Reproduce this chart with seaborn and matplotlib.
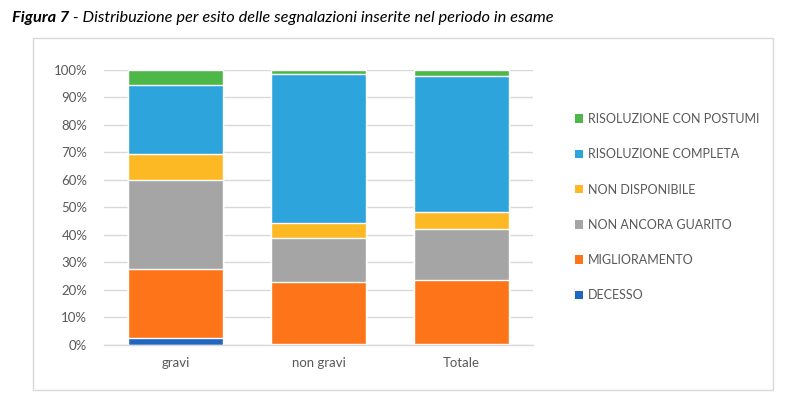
import matplotlib
matplotlib.use("Agg")
import matplotlib.pyplot as plt
from matplotlib.patches import Patch, Rectangle
import numpy as np
import pandas as pd
import seaborn as sns

categories = ["gravi", "non gravi", "Totale"]
decesso = [2.5, 0.1, 0.3]
miglioramento = [25.1, 22.6, 23.1]
non_ancora_guarito = [32.3, 16.2, 18.8]
non_disponibile = [9.4, 5.3, 6.0]
risoluzione_completa = [25.0, 54.1, 49.5]
risoluzione_postumi = [5.7, 1.7, 2.3]

series_labels = ["DECESSO", "MIGLIORAMENTO", "NON ANCORA GUARITO",
                 "NON DISPONIBILE", "RISOLUZIONE COMPLETA", "RISOLUZIONE CON POSTUMI"]
series_values = [decesso, miglioramento, non_ancora_guarito,
                 non_disponibile, risoluzione_completa, risoluzione_postumi]
colors = ["#1F66C1", "#FD7419", "#A5A5A5", "#FDB924", "#2EA4DC", "#4DB848"]

sns.set_style("white")
FONT = "Lato"
plt.rcParams["font.family"] = [FONT, "DejaVu Sans"]
TXT = "#595959"

fig = plt.figure(figsize=(8, 3.99), dpi=100)
ax = fig.add_axes([104 / 800, 1 - 344.7 / 399, (533 - 104) / 800, (344.7 - 69.7) / 399])

cum = np.cumsum(np.array(series_values), axis=0)
for i in range(len(series_labels) - 1, -1, -1):
    df = pd.DataFrame({"cat": categories, "val": cum[i]})
    sns.barplot(data=df, x="cat", y="val", color=colors[i], saturation=1,
                width=0.665, ax=ax, zorder=3)

ax.set_xlim(-0.5, 2.5)
ax.set_ylim(0, 100)
ax.set_yticks(np.arange(0, 101, 10))
ax.set_yticklabels([f"{v}%" for v in range(0, 101, 10)])
ax.grid(axis="y", color="#D9D9D9", linewidth=1, zorder=0)
ax.set_axisbelow(True)
for s in ["top", "right", "left"]:
    ax.spines[s].set_visible(False)
ax.spines["bottom"].set_color("#D9D9D9")
ax.spines["bottom"].set_linewidth(1)
ax.spines["bottom"].set_zorder(4)
ax.tick_params(axis="both", length=0, colors=TXT, labelsize=9.5)
ax.tick_params(axis="y", pad=12)
ax.tick_params(axis="x", pad=9)
ax.set_xlabel("")
ax.set_ylabel("")

handles = [Patch(facecolor=colors[i], edgecolor="none") for i in range(len(series_labels) - 1, -1, -1)]
labels = [series_labels[i] for i in range(len(series_labels) - 1, -1, -1)]
leg = fig.legend(handles, labels, loc="upper left", bbox_to_anchor=(570 / 800, 1 - 108 / 399),
                 frameon=False, fontsize=9, handlelength=0.65, handleheight=0.65,
                 handletextpad=0.4, labelspacing=1.86, borderaxespad=0)
for t in leg.get_texts():
    t.set_color(TXT)

fig.patches.append(Rectangle((33 / 800, 1 - 390 / 399), 740 / 800, 352 / 399,
                             transform=fig.transFigure, fill=False,
                             edgecolor="#D9D9D9", linewidth=1))

t1 = fig.text(12 / 800, 1 - 18 / 399, "Figura 7", fontsize=11.75, fontweight="bold",
              fontstyle="italic", va="center", ha="left", color="black")
fig.canvas.draw()
bb = t1.get_window_extent()
fig.text(bb.x1 / 800, 1 - 18 / 399, " - Distribuzione per esito delle segnalazioni inserite nel periodo in esame",
         fontsize=11.75, fontstyle="italic", va="center", ha="left", color="black")

fig.savefig("out.png", dpi=100)
